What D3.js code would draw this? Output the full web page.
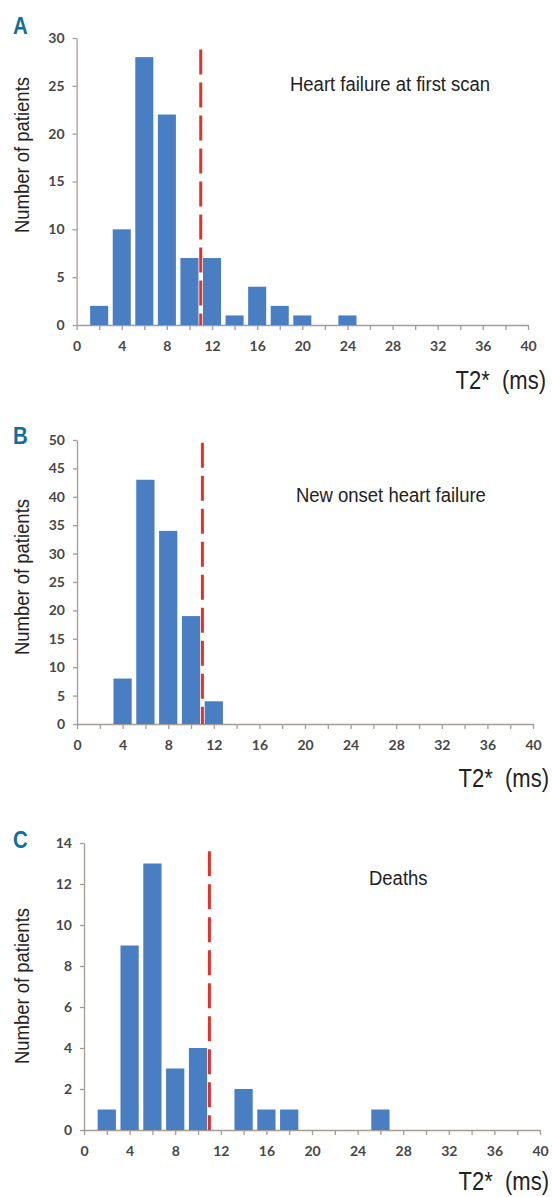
<!DOCTYPE html>
<html>
<head>
<meta charset="utf-8">
<script src="https://cdn.jsdelivr.net/npm/d3@7"></script>
<style>
    body { margin: 0; background: #fff; }
    .tick text { font-family: Lato, "Open Sans", sans-serif; font-weight: 700; font-size: 14px; fill: #474747; }
    .tick line, .domain { stroke: #a49c97; stroke-width: 1.3px; }
    .narrow { font-family: "Liberation Sans", Arial, sans-serif; fill: #222; }
</style>
</head>
<body>
<div id="chart"></div>
<script>
// Bin centres (ms) and patient counts for each panel
let binsA = [2, 4, 6, 8, 10, 12, 14, 16, 18, 20, 22, 24];
let countsA = [2, 10, 28, 22, 7, 7, 1, 4, 2, 1, 0, 1];

let binsB = [4, 6, 8, 10, 12];
let countsB = [8, 43, 34, 19, 4];

let binsC = [2, 4, 6, 8, 10, 12, 14, 16, 18, 20, 22, 24, 26];
let countsC = [1, 9, 13, 3, 4, 0, 2, 1, 1, 0, 0, 0, 1];

let titles = ["Heart failure at first scan", "New onset heart failure", "Deaths"];
let letters = ["A", "B", "C"];
let yMax = [30, 50, 14];
let yStep = [5, 5, 2];

// cut-off line: T2* = 11 ms, drawn up to these counts
let cutoff = 11;
let cutoffTop = [28.8, 49.5, 13.6];

let xTicks = d3.range(0, 41, 2);

let svg = d3.select("#chart").append("svg")
    .attr("width", 552)
    .attr("height", 1197);

// condensed look: squeeze a normal sans horizontally
function narrowText(g, x, y, size, str, anchor, rot) {
    let t = g.append("g")
        .attr("transform", "translate(" + x + "," + y + ")" + (rot ? " rotate(-90)" : "") + " scale(0.88,1)")
        .append("text")
        .attr("class", "narrow")
        .attr("font-size", size)
        .attr("text-anchor", anchor)
        .style("white-space", "pre")
        .text(str);
    return t;
}

// Draw one histogram panel
function gen_panel(i, bins, counts, box) {
    let x = d3.scaleLinear().domain([0, 40]).range([box.x0, box.x1]);
    let y = d3.scaleLinear().domain([0, yMax[i]]).range([box.y0, box.y1]);
    let g = svg.append("g");

    g.append("g")
        .attr("transform", "translate(0," + box.y0 + ")")
        .call(d3.axisBottom(x).tickValues(xTicks).tickSize(5).tickSizeOuter(0).tickPadding(11)
            .tickFormat(d => d % 4 === 0 ? d : ""));

    g.append("g")
        .attr("transform", "translate(" + x(0) + ",0)")
        .call(d3.axisLeft(y).tickValues(d3.range(0, yMax[i] + 1, yStep[i])).tickSize(4).tickSizeOuter(0).tickPadding(8));

    g.selectAll("rect.bar")
        .data(bins.map((b, k) => ({b: b, c: counts[k]})).filter(d => d.c > 0))
        .enter().append("rect")
        .attr("class", "bar")
        .attr("x", d => x(d.b - 0.8))
        .attr("width", d => x(d.b + 0.8) - x(d.b - 0.8))
        .attr("y", d => y(d.c))
        .attr("height", d => y(0) - y(d.c))
        .attr("fill", "#4a7ec2");

    // white under the dashes so gaps show over bars
    g.append("line")
        .attr("x1", x(cutoff)).attr("x2", x(cutoff))
        .attr("y1", y(0)).attr("y2", y(cutoffTop[i]))
        .attr("stroke", "#fff").attr("stroke-width", 3);
    g.append("line")
        .attr("x1", x(cutoff)).attr("x2", x(cutoff))
        .attr("y1", y(cutoffTop[i])).attr("y2", y(0))
        .attr("stroke", "#e2332a").attr("stroke-width", 3)
        .attr("stroke-dasharray", "25,8");

    narrowText(g, box.titleX, box.titleY, 21, titles[i], "start");
    narrowText(g, 29, box.labelY, 21, "Number of patients", "middle", true);
    narrowText(g, box.unitX, box.unitY, 25, "T2*  (ms)", "end");

    g.append("g")
        .attr("transform", "translate(13," + box.letterY + ") scale(0.85,1)")
        .append("text")
        .attr("class", "narrow")
        .attr("font-size", 24)
        .attr("font-weight", "bold")
        .style("fill", "#116d9a")
        .text(letters[i]);
}

gen_panel(0, binsA, countsA, {x0: 76.6, x1: 528, y0: 325, y1: 38, titleX: 290, titleY: 91, labelY: 155, unitX: 546, unitY: 389, letterY: 34});
gen_panel(1, binsB, countsB, {x0: 77, x1: 533, y0: 724, y1: 440, titleX: 296, titleY: 502, labelY: 577, unitX: 549, unitY: 787, letterY: 444});
gen_panel(2, binsC, countsC, {x0: 84, x1: 540, y0: 1130, y1: 843, titleX: 369, titleY: 885, labelY: 986, unitX: 549, unitY: 1190, letterY: 848});
</script>
</body>
</html>
